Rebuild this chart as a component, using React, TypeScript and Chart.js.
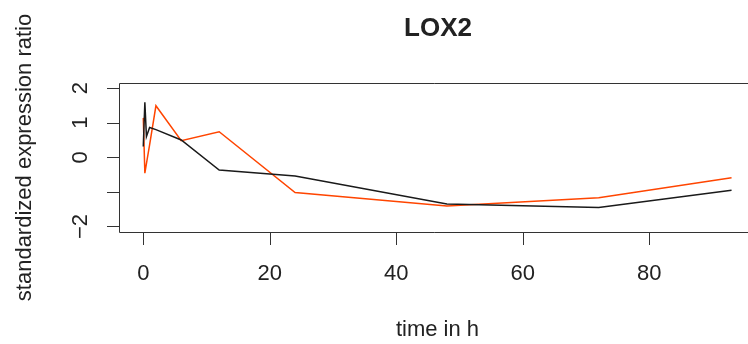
import { useEffect, useRef } from "react";
import { Chart, registerables } from "chart.js";

Chart.register(...registerables);

// ---- data ----
const timesH = [0, 0.25, 0.5, 1, 2, 6, 12, 24, 48, 72, 93];
const seriesBlack = [0.31, 1.59, 0.6, 0.86, 0.8, 0.5, -0.37, -0.54, -1.35, -1.45, -0.95];
const seriesOrange = [1.14, -0.46, -0.18, 0.36, 1.49, 0.48, 0.74, -1.02, -1.41, -1.17, -0.59];
const xTicks = [0, 20, 40, 60, 80];
const xTickLabels = ["0", "20", "40", "60", "80"];
const yTicks = [-2, -1, 0, 1, 2];
const yTickLabels = ["\u22122", "", "0", "1", "2"];
const titleText = "LOX2";
const xTitle = "time in h";
const yTitle = "standardized expression ratio";

const FONT = "'Liberation Sans', Arial, Helvetica, sans-serif";

export default function App() {
  const ref = useRef<HTMLCanvasElement>(null);

  useEffect(() => {
    const canvas = ref.current;
    if (!canvas) return;

    const axesPlugin = {
      id: "rAxes",
      afterDraw(chart: any) {
        const ctx = chart.ctx as CanvasRenderingContext2D;
        const area = chart.chartArea;
        const xs = chart.scales.x;
        const ys = chart.scales.y;
        ctx.save();
        ctx.strokeStyle = "#333";
        ctx.lineWidth = 1;
        const L = area.left - 0.5;
        const T = Math.round(area.top) + 0.5;
        const B = Math.round(area.bottom) + 0.5;
        ctx.beginPath();
        ctx.moveTo(area.right + 2, T);
        ctx.lineTo(L, T);
        ctx.lineTo(L, B);
        ctx.lineTo(area.right + 2, B);
        ctx.stroke();

        // x ticks
        ctx.beginPath();
        xTicks.forEach((v) => {
          const px = Math.round(xs.getPixelForValue(v)) + 0.5;
          ctx.moveTo(px, B);
          ctx.lineTo(px, B + 12.5);
        });
        // y ticks
        yTicks.forEach((v) => {
          const py = Math.round(ys.getPixelForValue(v)) + 0.5;
          ctx.moveTo(L, py);
          ctx.lineTo(L - 12.5, py);
        });
        ctx.stroke();

        ctx.fillStyle = "#222";
        ctx.font = `22px ${FONT}`;
        ctx.textAlign = "center";
        ctx.textBaseline = "alphabetic";
        xTicks.forEach((v, i) => {
          ctx.fillText(xTickLabels[i], xs.getPixelForValue(v), 280);
        });
        yTicks.forEach((v, i) => {
          if (!yTickLabels[i]) return;
          ctx.save();
          ctx.translate(86.5, ys.getPixelForValue(v));
          ctx.rotate(-Math.PI / 2);
          ctx.fillText(yTickLabels[i], 0, 0);
          ctx.restore();
        });

        // axis titles
        ctx.fillText(xTitle, 437.5, 336);
        ctx.save();
        ctx.translate(31, 157.5);
        ctx.rotate(-Math.PI / 2);
        ctx.fillText(yTitle, 0, 0);
        ctx.restore();

        // main title
        ctx.font = `bold 26px ${FONT}`;
        ctx.fillText(titleText, 438, 36);
        ctx.restore();
      },
    };

    const chart = new Chart(canvas, {
      type: "line",
      data: {
        datasets: [
          {
            label: "black",
            data: timesH.map((t, i) => ({ x: t, y: seriesBlack[i] })),
            borderColor: "#1a1a1a",
            borderWidth: 1.5,
            pointRadius: 0,
            tension: 0,
            fill: false,
          },
          {
            label: "orange",
            data: timesH.map((t, i) => ({ x: t, y: seriesOrange[i] })),
            borderColor: "#FF4500",
            borderWidth: 1.5,
            pointRadius: 0,
            tension: 0,
            fill: false,
          },
        ],
      },
      options: {
        responsive: false,
        animation: false,
        devicePixelRatio: 1,
        layout: { padding: { left: 120, top: 82.6, right: 0, bottom: 112 } },
        scales: {
          x: { type: "linear", min: -3.68, max: 95.6, display: false },
          y: { type: "linear", min: -2.16, max: 2.16, display: false },
        },
        plugins: {
          legend: { display: false },
          tooltip: { enabled: false },
          title: { display: false },
        },
      },
      plugins: [axesPlugin],
    });

    return () => chart.destroy();
  }, []);

  return (
    <div
      style={{
        position: "absolute",
        left: 0,
        top: 0,
        width: 748,
        height: 344,
        overflow: "hidden",
        background: "#fff",
      }}
    >
      <canvas ref={ref} width={748} height={344} style={{ display: "block" }} />
    </div>
  );
}
